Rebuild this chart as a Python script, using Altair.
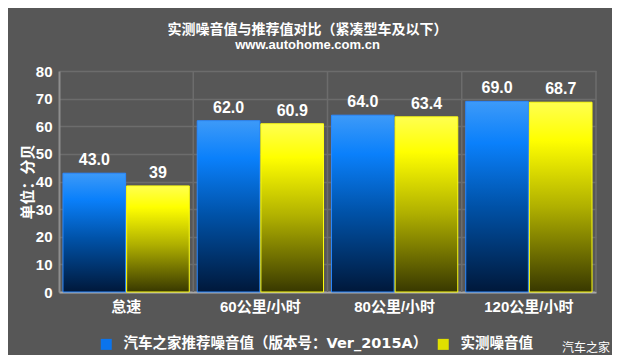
import altair as alt
import pandas as pd

categories = ["怠速", "60公里/小时", "80公里/小时", "120公里/小时"]
series = ["汽车之家推荐噪音值（版本号：Ver_2015A）", "实测噪音值"]
recommended = [43.0, 62.0, 64.0, 69.0]
measured = [38.4, 60.9, 63.4, 68.7]
recommended_labels = ["43.0", "62.0", "64.0", "69.0"]
measured_labels = ["39", "60.9", "63.4", "68.7"]
y_ticks = [0, 10, 20, 30, 40, 50, 60, 70, 80]

rows = []
for c, v, l in zip(categories, recommended, recommended_labels):
    rows.append({"cat": c, "series": series[0], "value": v, "label": l})
for c, v, l in zip(categories, measured, measured_labels):
    rows.append({"cat": c, "series": series[1], "value": v, "label": l})
df = pd.DataFrame(rows)

LAT = "Liberation Sans, Noto Sans CJK SC"
CJK = "Noto Sans CJK SC"

x_enc = alt.X("cat:N", sort=categories,
              scale=alt.Scale(paddingInner=0, paddingOuter=0),
              axis=alt.Axis(title=None, labelAngle=0, ticks=False, grid=False,
                            bandPosition=0.5,
                            labelFont=LAT, labelFontSize=15, labelFontWeight="bold",
                            labelColor="white", labelPadding=7,
                            domainColor="#a8a8a8", domainWidth=2))
xo_enc = alt.XOffset("series:N", sort=series,
                     scale=alt.Scale(domain=series, paddingInner=0.016, paddingOuter=0.0625))
y_enc = alt.Y("value:Q", scale=alt.Scale(domain=[0, 80], nice=False),
              axis=alt.Axis(values=y_ticks, title="单位：分贝", ticks=False,
                            titleFont=CJK, titleFontSize=15, titleFontWeight="bold",
                            titleColor="white", titlePadding=0,
                            labelFont=LAT, labelFontSize=15, labelFontWeight="bold",
                            labelColor="white", labelPadding=7,
                            gridColor="#6c6c6c", gridWidth=1.5,
                            domainColor="#8e8e8e", domainWidth=2))

blue_grad = alt.LinearGradient(
    gradient="linear", x1=0, y1=0, x2=0, y2=1,
    stops=[alt.GradientStop(offset=0, color="#3d9af8"),
           alt.GradientStop(offset=0.22, color="#0a80fb"),
           alt.GradientStop(offset=0.55, color="#0052a8"),
           alt.GradientStop(offset=1, color="#00183a")])
yellow_grad = alt.LinearGradient(
    gradient="linear", x1=0, y1=0, x2=0, y2=1,
    stops=[alt.GradientStop(offset=0, color="#ffff50"),
           alt.GradientStop(offset=0.2, color="#ffff00"),
           alt.GradientStop(offset=0.55, color="#b0b000"),
           alt.GradientStop(offset=1, color="#383800")])

base = alt.Chart(df)

blue_bars = base.transform_filter(alt.datum.series == series[0]).mark_bar(
    fill=blue_grad, stroke="#2a88ff", strokeWidth=1).encode(
    x=x_enc, xOffset=xo_enc, y=y_enc)
yellow_bars = base.transform_filter(alt.datum.series == series[1]).mark_bar(
    fill=yellow_grad, stroke="#ffff10", strokeWidth=1).encode(
    x=x_enc, xOffset=xo_enc, y=y_enc)

vgrid = base.transform_filter(alt.datum.series == series[0]).mark_rule(
    color="#6c6c6c", strokeWidth=1.5).encode(
    x=alt.X("cat:N", sort=categories, bandPosition=1))

legend_layer = base.mark_square(opacity=0, size=1).encode(
    x=x_enc, xOffset=xo_enc, y=y_enc,
    color=alt.Color("series:N", sort=series,
                    scale=alt.Scale(domain=series, range=["#0a74ee", "#e0e000"]),
                    legend=alt.Legend(title=None, orient="none", direction="horizontal",
                                      legendX=40, legendY=266,
                                      symbolType="square", symbolSize=121,
                                      symbolOpacity=1, symbolStrokeWidth=0,
                                      labelFont="DejaVu Sans, Noto Sans CJK SC",
                                      labelFontSize=14.5,
                                      labelFontWeight="bold", labelColor="white",
                                      labelOffset=10, columnPadding=8,
                                      labelLimit=500)))

labels = base.mark_text(font=LAT, fontSize=16, fontWeight="bold", color="white",
                        baseline="bottom", dy=-5).encode(
    x=x_enc, xOffset=xo_enc, y=y_enc, text="label:N")

watermark = base.transform_filter(alt.datum.label == "39").mark_text(
    font=CJK, fontSize=12, color="white", align="right", baseline="middle").encode(
    x=alt.value(551), y=alt.value(277), text=alt.value("汽车之家"))

chart = alt.layer(blue_bars, yellow_bars, vgrid, legend_layer, labels, watermark).properties(
    width=537, height=221,
    autosize=alt.AutoSizeParams(type="none"),
    padding={"left": 51, "top": 63, "right": 16, "bottom": 63},
    background="#575757",
    title=alt.TitleParams(
        text="实测噪音值与推荐值对比（紧凑型车及以下）",
        subtitle="www.autohome.com.cn",
        font=CJK, fontSize=14, fontWeight="bold", color="white",
        subtitleFont="Liberation Sans", subtitleFontSize=13, subtitleFontWeight="bold",
        subtitleColor="white", subtitlePadding=2,
        anchor="middle", dx=-20, offset=12)
).configure_view(stroke=None)

chart.save("out.html", embed_options={"renderer": "svg", "actions": False})
